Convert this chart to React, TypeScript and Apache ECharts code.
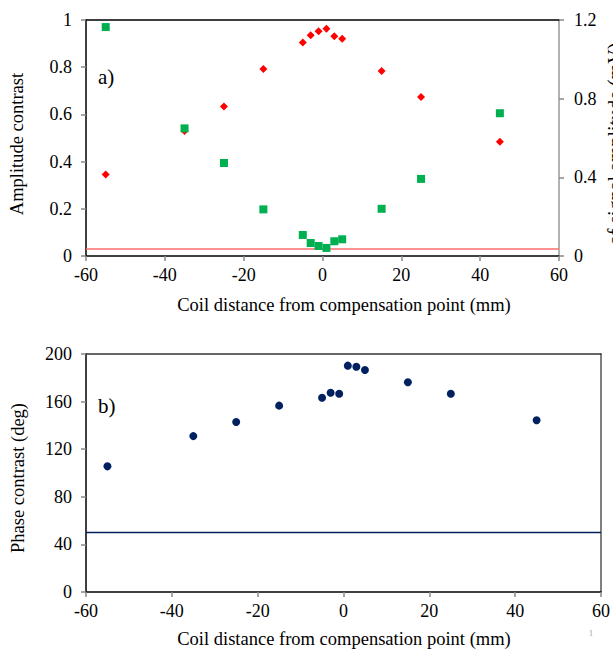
import React, { useEffect, useRef } from "react";
import * as echarts from "echarts";

// ---- data ----
const coilDistance = [-55, -35, -25, -15, -5, -3, -1, 1, 3, 5, 15, 25, 45];
const amplitudeContrast = [0.345, 0.53, 0.633, 0.792, 0.905, 0.935, 0.952, 0.963, 0.931, 0.921, 0.784, 0.674, 0.484];
const signalAmplitude = [1.164, 0.649, 0.473, 0.237, 0.107, 0.066, 0.051, 0.041, 0.075, 0.085, 0.24, 0.392, 0.726];
const phaseContrast = [105.6, 131, 142.9, 156.6, 163.3, 167.5, 166.6, 190.2, 189.3, 186.6, 176.2, 166.6, 144.3];
const amplitudeThreshold = 0.03;
const phaseThreshold = 50;
const xRange = [-60, 60];

const xTitle = "Coil distance from compensation point (mm)";
const leftTitleA = "Amplitude contrast";
const rightTitleA = "of signal amplitude (mV)";
const leftTitleB = "Phase contrast (deg)";

const FONT = "Liberation Serif, Times New Roman, serif";

function pairs(xs: number[], ys: number[]) {
  return xs.map((x, i) => [x, ys[i]]);
}

export default function App() {
  const ref = useRef<HTMLDivElement>(null);

  useEffect(() => {
    if (!ref.current) return;
    const chart = echarts.init(ref.current, undefined, { renderer: "svg" });

    const labelStyle = { fontFamily: FONT, fontSize: 18, color: "#000" };
    const tick = { show: true, inside: false, length: 5, lineStyle: { color: "#888", width: 1.5 } };

    const xBottom = (gridIndex: number) => ({
      gridIndex,
      type: "value",
      min: xRange[0],
      max: xRange[1],
      interval: 20,
      position: "bottom",
      axisLine: { show: true, onZero: false, lineStyle: { color: "#000", width: 1.5 } },
      axisTick: tick,
      axisLabel: { ...labelStyle, margin: 10 },
      splitLine: { show: false },
    });
    const xTop = (gridIndex: number, color: string) => ({
      gridIndex,
      type: "value",
      min: xRange[0],
      max: xRange[1],
      position: "top",
      axisLine: { show: true, onZero: false, lineStyle: { color, width: 1.5 } },
      axisTick: { show: false },
      axisLabel: { show: false },
      splitLine: { show: false },
    });

    const textEl = (text: string, x: number, y: number, opts: any = {}) => ({
      type: "text",
      x,
      y,
      rotation: opts.rotation || 0,
      silent: true,
      style: {
        text,
        fontFamily: FONT,
        fontSize: opts.fontSize || 18.5,
        fill: opts.fill || "#000",
        align: opts.align || "center",
        verticalAlign: opts.verticalAlign || "middle",
        textAlign: opts.align || "center",
        textVerticalAlign: opts.verticalAlign || "middle",
      },
    });

    chart.setOption({
      animation: false,
      backgroundColor: "#fff",
      textStyle: { fontFamily: FONT },
      grid: [
        { left: 86, top: 20, width: 473, height: 236 },
        { left: 86, top: 354, width: 516, height: 238 },
      ],
      xAxis: [xBottom(0), xTop(0, "#000"), xBottom(1), xTop(1, "#333")],
      yAxis: [
        {
          gridIndex: 0,
          type: "value",
          min: 0,
          max: 1,
          interval: 0.2,
          position: "left",
          axisLine: { show: true, onZero: false, lineStyle: { color: "#000", width: 1.5 } },
          axisTick: tick,
          axisLabel: { ...labelStyle, margin: 14 },
          splitLine: { show: false },
        },
        {
          gridIndex: 0,
          type: "value",
          min: 0,
          max: 1.2,
          interval: 0.4,
          position: "right",
          axisLine: { show: true, onZero: false, lineStyle: { color: "#999", width: 1.5 } },
          axisTick: tick,
          axisLabel: { ...labelStyle, margin: 15 },
          splitLine: { show: false },
        },
        {
          gridIndex: 1,
          type: "value",
          min: 0,
          max: 200,
          interval: 40,
          position: "left",
          axisLine: { show: true, onZero: false, lineStyle: { color: "#000", width: 1.5 } },
          axisTick: tick,
          axisLabel: { ...labelStyle, margin: 14 },
          splitLine: { show: false },
        },
        {
          gridIndex: 1,
          type: "value",
          min: 0,
          max: 200,
          position: "right",
          axisLine: { show: true, onZero: false, lineStyle: { color: "#555", width: 1.5 } },
          axisTick: { show: false },
          axisLabel: { show: false },
          splitLine: { show: false },
        },
      ],
      series: [
        {
          type: "line",
          xAxisIndex: 0,
          yAxisIndex: 0,
          data: [
            [xRange[0], amplitudeThreshold],
            [xRange[1], amplitudeThreshold],
          ],
          symbol: "none",
          lineStyle: { color: "#FF6B6B", width: 1.5 },
          z: 1,
        },
        {
          type: "scatter",
          xAxisIndex: 0,
          yAxisIndex: 0,
          data: pairs(coilDistance, amplitudeContrast),
          symbol: "diamond",
          symbolSize: 8,
          itemStyle: { color: "#FF0000", opacity: 1 },
          z: 2,
        },
        {
          type: "scatter",
          xAxisIndex: 0,
          yAxisIndex: 1,
          data: pairs(coilDistance, signalAmplitude),
          symbol: "rect",
          symbolSize: 8,
          itemStyle: { color: "#00B050", opacity: 1 },
          z: 3,
        },
        {
          type: "line",
          xAxisIndex: 2,
          yAxisIndex: 2,
          data: [
            [xRange[0], phaseThreshold],
            [xRange[1], phaseThreshold],
          ],
          symbol: "none",
          lineStyle: { color: "#002060", width: 1.5 },
          z: 1,
        },
        {
          type: "scatter",
          xAxisIndex: 2,
          yAxisIndex: 2,
          data: pairs(coilDistance, phaseContrast),
          symbol: "circle",
          symbolSize: 8,
          itemStyle: { color: "#002060", opacity: 1 },
          z: 2,
        },
      ],
      graphic: [
        textEl("a)", 98, 77, { fontSize: 21, align: "left" }),
        textEl("b)", 98, 406, { fontSize: 21, align: "left" }),
        textEl(leftTitleA, 17, 144, { rotation: Math.PI / 2 }),
        textEl(leftTitleB, 17.5, 478, { rotation: Math.PI / 2 }),
        textEl(rightTitleA, 605, 144, { rotation: Math.PI / 2, verticalAlign: "top", fontSize: 20 }),
        textEl(xTitle, 344, 305),
        textEl(xTitle, 344, 639),
        textEl("1", 591, 633, { fontSize: 9, fill: "#aaa" }),
      ],
    });

    return () => chart.dispose();
  }, []);

  return (
    <div
      ref={ref}
      style={{ position: "absolute", left: 0, top: 0, width: 613, height: 649 }}
    />
  );
}
